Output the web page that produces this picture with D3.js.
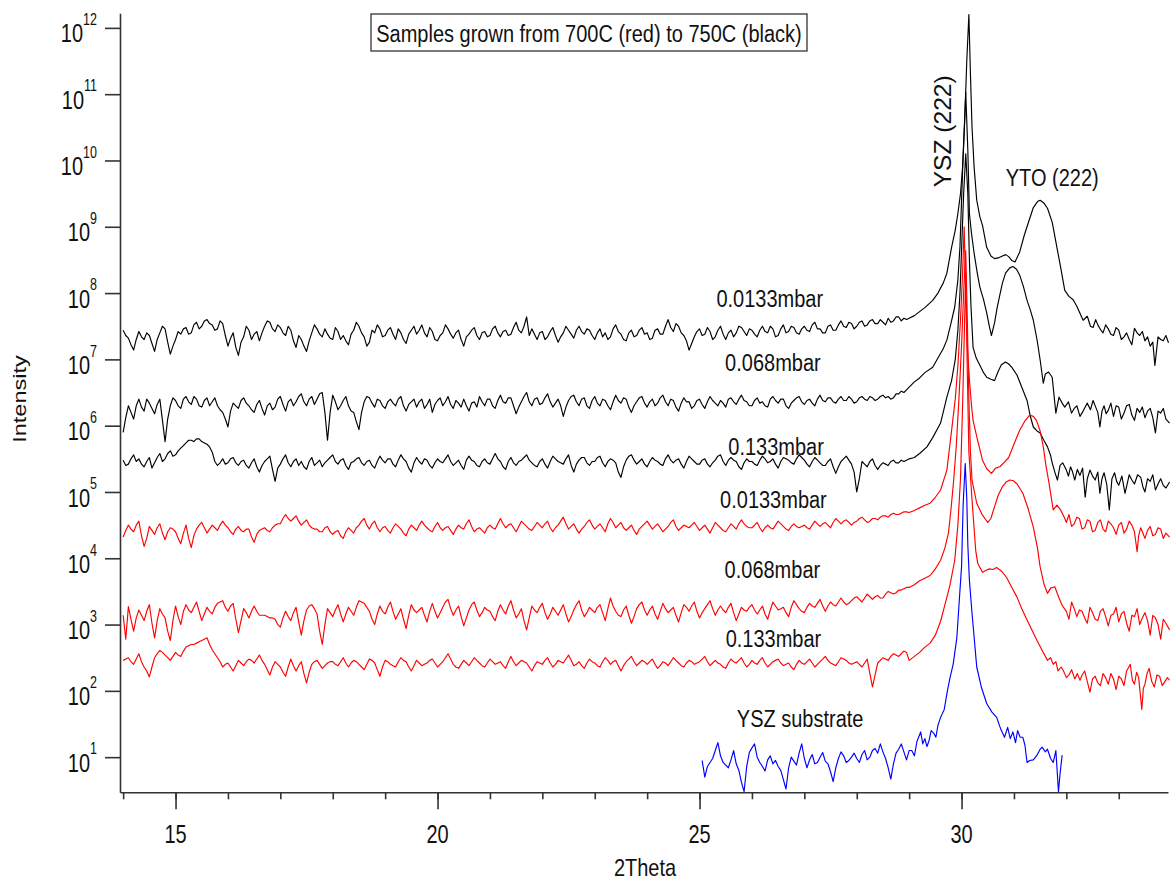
<!DOCTYPE html>
<html>
<head>
<meta charset="utf-8">
<script src="https://cdn.jsdelivr.net/npm/d3@7"></script>
<style>
  body { margin: 0; background: #fff; }
  text { font-family: "Liberation Sans", Arial, sans-serif; fill: #111; }
</style>
</head>
<body>
<div id="chart"></div>
<script>
// values are log10(intensity)
// flat part: one value every 0.1 deg from its start (xxFlat) plus the in-between readings (xxMid),
// then [2theta, log10] pairs through the peaks
const flatStart = 14.0, flatStep = 0.1;

// 750C, 0.0133 mbar (black)
const b0133Flat = [
  7.44, 7.32, 7.14, 7.42, 7.30, 7.36, 7.12, 7.40, 7.46, 7.08,
  7.30, 7.38, 7.48, 7.40, 7.56, 7.50, 7.60, 7.52, 7.46, 7.54,
  7.20, 7.40, 7.06, 7.34, 7.44, 7.38, 7.28, 7.50, 7.56, 7.42,
  7.48, 7.36, 7.44, 7.18, 7.30, 7.12, 7.40, 7.46, 7.34, 7.38,
  7.30, 7.42, 7.36, 7.22, 7.44, 7.50, 7.34, 7.26, 7.40, 7.46,
  7.36, 7.48, 7.30, 7.40, 7.24, 7.44, 7.38, 7.52, 7.34, 7.42,
  7.28, 7.40, 7.46, 7.32, 7.44, 7.20, 7.38, 7.48, 7.30, 7.42,
  7.36, 7.50, 7.34, 7.44, 7.38, 7.56, 7.40, 7.64, 7.46, 7.30,
  7.42, 7.34, 7.48, 7.26, 7.40, 7.44, 7.32, 7.50, 7.38, 7.44,
  7.30, 7.46, 7.40, 7.34, 7.52, 7.38, 7.28, 7.44, 7.36, 7.48,
  7.40, 7.32, 7.46, 7.38, 7.60, 7.42, 7.50, 7.36, 7.14, 7.34,
  7.46, 7.38, 7.42, 7.34, 7.50, 7.30, 7.44, 7.40, 7.48, 7.36,
  7.44, 7.34, 7.50, 7.40, 7.46, 7.36, 7.52, 7.42, 7.48, 7.38,
  7.50, 7.42, 7.56, 7.46, 7.40, 7.52, 7.44, 7.58, 7.48, 7.54,
  7.50, 7.58, 7.52, 7.60, 7.54, 7.56, 7.62, 7.58, 7.64, 7.62
];
const b0133Mid = [
  7.36, 7.22, 7.30, 7.34, 7.40, 7.24, 7.30, 7.50, 7.26, 7.20,
  7.42, 7.46, 7.38, 7.52, 7.46, 7.58, 7.54, 7.44, 7.58, 7.36,
  7.32, 7.18, 7.26, 7.50, 7.30, 7.42, 7.40, 7.58, 7.46, 7.52,
  7.40, 7.50, 7.28, 7.36, 7.20, 7.28, 7.52, 7.38, 7.46, 7.32,
  7.48, 7.30, 7.28, 7.38, 7.56, 7.40, 7.20, 7.44, 7.52, 7.34,
  7.44, 7.38, 7.46, 7.30, 7.38, 7.50, 7.44, 7.40, 7.48, 7.30,
  7.36, 7.52, 7.38, 7.40, 7.30, 7.34, 7.44, 7.36, 7.40, 7.34,
  7.46, 7.40, 7.42, 7.36, 7.48, 7.44, 7.50, 7.36, 7.38, 7.40,
  7.30, 7.42, 7.36, 7.34, 7.50, 7.38, 7.44, 7.42, 7.46, 7.36,
  7.40, 7.34, 7.30, 7.46, 7.42, 7.30, 7.40, 7.34, 7.44, 7.38,
  7.30, 7.44, 7.38, 7.50, 7.48, 7.54, 7.40, 7.28, 7.24, 7.42,
  7.36, 7.48, 7.30, 7.44, 7.38, 7.40, 7.34, 7.50, 7.42, 7.46,
  7.38, 7.44, 7.42, 7.50, 7.34, 7.46, 7.40, 7.50, 7.40, 7.46,
  7.44, 7.52, 7.46, 7.40, 7.50, 7.44, 7.52, 7.50, 7.56, 7.46,
  7.56, 7.50, 7.58, 7.54, 7.60, 7.52, 7.56, 7.64, 7.58, 7.60
];
const b0133Peak = [
  [29.0, 7.62], [29.1, 7.66], [29.2, 7.72], [29.3, 7.78], [29.45, 7.89], [29.55, 8.0],
  [29.65, 8.15], [29.72, 8.30], [29.81, 8.69], [29.88, 8.95], [29.93, 9.2], [29.98, 9.5],
  [30.02, 9.9], [30.06, 10.6], [30.1, 11.5], [30.14, 12.2], [30.17, 11.3], [30.2, 10.5],
  [30.24, 9.9], [30.29, 9.4], [30.35, 9.15], [30.4, 9.02], [30.48, 8.69], [30.56, 8.56],
  [30.63, 8.52], [30.7, 8.53], [30.78, 8.56], [30.84, 8.58], [30.9, 8.55], [30.96, 8.49],
  [31.02, 8.47], [31.11, 8.62], [31.2, 8.88], [31.27, 9.05], [31.37, 9.29], [31.45, 9.38],
  [31.5, 9.40], [31.57, 9.36], [31.64, 9.28], [31.73, 9.07], [31.82, 8.69], [31.9, 8.35],
  [31.97, 8.04], [32.05, 7.95], [32.13, 7.90], [32.2, 7.80], [32.32, 7.59], [32.4, 7.65],
  [32.46, 7.50], [32.51, 7.48], [32.56, 7.60], [32.6, 7.52], [32.66, 7.44], [32.7, 7.40],
  [32.75, 7.52], [32.8, 7.46], [32.85, 7.38], [32.9, 7.36], [32.95, 7.48], [33.0, 7.44],
  [33.05, 7.30], [33.1, 7.34], [33.15, 7.40], [33.2, 7.30], [33.25, 7.22], [33.3, 7.47],
  [33.35, 7.40], [33.4, 7.36], [33.45, 7.42], [33.5, 7.28], [33.55, 7.34], [33.6, 7.20],
  [33.65, 7.26], [33.69, 6.91], [33.75, 7.34], [33.8, 7.30], [33.85, 7.28], [33.9, 7.36],
  [33.95, 7.25]
];

// 750C, 0.068 mbar (black)
const b068Flat = [
  5.90, 6.30, 6.10, 6.40, 6.22, 6.34, 6.18, 6.40, 5.76, 6.30,
  6.38, 6.26, 6.44, 6.32, 6.40, 6.28, 6.42, 6.36, 6.30, 6.20,
  5.98, 6.34, 6.26, 6.42, 6.30, 6.20, 6.38, 6.16, 6.34, 6.28,
  6.44, 6.22, 6.40, 6.36, 6.48, 6.30, 6.44, 6.40, 6.50, 5.78,
  6.46, 6.24, 6.38, 6.30, 6.20, 5.94, 6.36, 6.42, 6.28, 6.38,
  6.26, 6.40, 6.30, 6.44, 6.22, 6.36, 6.28, 6.40, 6.32, 6.20,
  6.38, 6.30, 6.44, 6.26, 6.34, 6.40, 6.22, 6.36, 6.44, 6.30,
  6.40, 6.26, 6.46, 6.34, 6.42, 6.18, 6.36, 6.50, 6.30, 6.42,
  6.34, 6.48, 6.28, 6.40, 6.14, 6.38, 6.46, 6.30, 6.42, 6.26,
  6.44, 6.30, 6.38, 6.24, 6.46, 6.34, 6.40, 6.20, 6.36, 6.44,
  6.28, 6.40, 6.34, 6.46, 6.30, 6.38, 6.22, 6.42, 6.36, 6.30,
  6.40, 6.26, 6.44, 6.34, 6.38, 6.28, 6.42, 6.32, 6.46, 6.36,
  6.30, 6.42, 6.36, 6.28, 6.44, 6.34, 6.40, 6.26, 6.38, 6.44,
  6.32, 6.40, 6.30, 6.46, 6.36, 6.42, 6.34, 6.44, 6.38, 6.40,
  6.36, 6.44, 6.38, 6.42, 6.40, 6.46, 6.44, 6.42, 6.48, 6.50
];
const b068Mid = [
  6.12, 6.20, 6.30, 6.28, 6.40, 6.26, 6.32, 6.08, 6.10, 6.42,
  6.30, 6.40, 6.36, 6.44, 6.30, 6.38, 6.30, 6.42, 6.24, 6.10,
  6.22, 6.30, 6.38, 6.34, 6.24, 6.32, 6.26, 6.30, 6.24, 6.40,
  6.32, 6.36, 6.30, 6.44, 6.36, 6.40, 6.32, 6.48, 6.20, 6.20,
  6.36, 6.30, 6.44, 6.22, 6.06, 6.20, 6.44, 6.34, 6.40, 6.30,
  6.36, 6.34, 6.40, 6.30, 6.32, 6.40, 6.36, 6.26, 6.40, 6.32,
  6.42, 6.36, 6.32, 6.38, 6.28, 6.30, 6.34, 6.28, 6.36, 6.40,
  6.30, 6.38, 6.36, 6.42, 6.30, 6.28, 6.44, 6.36, 6.40, 6.32,
  6.42, 6.36, 6.34, 6.30, 6.28, 6.44, 6.36, 6.40, 6.30, 6.38,
  6.34, 6.40, 6.30, 6.36, 6.38, 6.42, 6.28, 6.30, 6.42, 6.34,
  6.36, 6.30, 6.42, 6.36, 6.40, 6.28, 6.34, 6.36, 6.26, 6.38,
  6.32, 6.36, 6.38, 6.30, 6.34, 6.40, 6.36, 6.40, 6.38, 6.30,
  6.38, 6.34, 6.30, 6.40, 6.38, 6.40, 6.30, 6.34, 6.42, 6.36,
  6.38, 6.34, 6.40, 6.38, 6.42, 6.36, 6.40, 6.38, 6.44, 6.34,
  6.42, 6.40, 6.44, 6.38, 6.44, 6.42, 6.40, 6.48, 6.52, 6.54
];
const b068Peak = [
  [29.0, 6.58], [29.1, 6.66], [29.2, 6.72], [29.3, 6.80], [29.45, 6.88], [29.55, 7.02],
  [29.65, 7.16], [29.72, 7.29], [29.8, 7.55], [29.87, 7.79], [29.93, 8.2], [29.97, 8.7],
  [30.02, 9.85], [30.08, 11.03], [30.12, 10.15], [30.15, 9.2], [30.19, 8.9], [30.24, 8.6],
  [30.3, 8.3], [30.35, 8.09], [30.42, 7.9], [30.48, 7.7], [30.53, 7.5], [30.57, 7.36],
  [30.63, 7.55], [30.68, 7.78], [30.73, 7.97], [30.78, 8.15], [30.84, 8.3], [30.92, 8.38],
  [30.98, 8.40], [31.05, 8.36], [31.11, 8.27], [31.18, 8.1], [31.25, 7.89], [31.31, 7.75],
  [31.37, 7.59], [31.44, 7.3], [31.5, 6.99], [31.56, 6.64], [31.6, 6.78], [31.66, 6.81],
  [31.73, 6.73], [31.8, 6.19], [31.86, 6.43], [31.92, 6.34], [31.97, 6.28], [32.04, 6.36],
  [32.1, 6.19], [32.15, 6.26], [32.2, 6.30], [32.26, 6.14], [32.32, 6.22], [32.4, 6.34],
  [32.46, 6.24], [32.51, 6.38], [32.56, 6.28], [32.6, 6.20], [32.64, 5.98], [32.68, 6.22],
  [32.72, 6.30], [32.76, 6.18], [32.8, 6.23], [32.85, 6.34], [32.9, 6.14], [32.95, 6.30],
  [33.0, 6.28], [33.05, 6.10], [33.1, 6.19], [33.15, 6.30], [33.2, 6.32], [33.25, 6.16],
  [33.3, 6.08], [33.35, 6.26], [33.4, 6.20], [33.45, 6.28], [33.5, 6.12], [33.55, 6.22],
  [33.6, 6.26], [33.65, 6.12], [33.7, 5.89], [33.75, 6.22], [33.8, 6.19], [33.85, 6.26],
  [33.9, 6.10], [33.97, 6.04]
];

// 750C, 0.133 mbar (black)
const b133Flat = [
  5.48, 5.42, 5.56, 5.50, 5.38, 5.52, 5.44, 5.58, 5.50, 5.62,
  5.56, 5.66, 5.74, 5.78, 5.80, 5.76, 5.72, 5.60, 5.40, 5.50,
  5.44, 5.52, 5.40, 5.48, 5.36, 5.50, 5.30, 5.46, 5.54, 5.16,
  5.42, 5.56, 5.38, 5.50, 5.46, 5.34, 5.52, 5.44, 5.38, 5.48,
  5.56, 5.42, 5.50, 5.34, 5.46, 5.52, 5.40, 5.48, 5.36, 5.54,
  5.44, 5.50, 5.38, 5.56, 5.46, 5.30, 5.52, 5.42, 5.48, 5.36,
  5.50, 5.44, 5.56, 5.40, 5.48, 5.34, 5.54, 5.46, 5.38, 5.50,
  5.42, 5.58, 5.46, 5.34, 5.52, 5.40, 5.48, 5.56, 5.44, 5.38,
  5.50, 5.36, 5.54, 5.46, 5.42, 5.56, 5.30, 5.48, 5.52, 5.40,
  5.46, 5.54, 5.38, 5.50, 5.44, 5.22, 5.48, 5.56, 5.42, 5.50,
  5.38, 5.52, 5.46, 5.40, 5.56, 5.44, 5.50, 5.36, 5.54, 5.46,
  5.42, 5.50, 5.38, 5.48, 5.56, 5.40, 5.52, 5.46, 5.34, 5.50,
  5.46, 5.40, 5.54, 5.44, 5.50, 5.36, 5.52, 5.48, 5.42, 5.56,
  5.48, 5.38, 5.52, 5.44, 5.40, 5.50, 5.28, 5.46, 5.54, 5.42,
  5.00, 5.46, 5.38, 5.50, 5.34, 5.44, 5.40, 5.48, 5.44, 5.46
];
const b133Mid = [
  5.40, 5.50, 5.46, 5.42, 5.46, 5.36, 5.52, 5.46, 5.58, 5.54,
  5.62, 5.70, 5.78, 5.76, 5.80, 5.74, 5.68, 5.46, 5.44, 5.42,
  5.50, 5.44, 5.46, 5.40, 5.44, 5.38, 5.40, 5.50, 5.34, 5.36,
  5.50, 5.44, 5.46, 5.40, 5.38, 5.46, 5.40, 5.48, 5.44, 5.52,
  5.46, 5.48, 5.40, 5.44, 5.50, 5.44, 5.46, 5.40, 5.46, 5.48,
  5.50, 5.42, 5.48, 5.50, 5.36, 5.44, 5.46, 5.50, 5.40, 5.44,
  5.46, 5.50, 5.46, 5.44, 5.40, 5.48, 5.48, 5.40, 5.46, 5.44,
  5.50, 5.50, 5.38, 5.46, 5.44, 5.46, 5.52, 5.48, 5.40, 5.46,
  5.42, 5.46, 5.50, 5.44, 5.50, 5.40, 5.42, 5.52, 5.44, 5.46,
  5.52, 5.44, 5.46, 5.48, 5.30, 5.38, 5.54, 5.48, 5.46, 5.42,
  5.46, 5.48, 5.42, 5.50, 5.48, 5.48, 5.42, 5.46, 5.50, 5.42,
  5.48, 5.42, 5.44, 5.54, 5.46, 5.48, 5.48, 5.38, 5.44, 5.46,
  5.42, 5.48, 5.50, 5.46, 5.42, 5.46, 5.50, 5.44, 5.50, 5.52,
  5.42, 5.46, 5.48, 5.40, 5.46, 5.38, 5.38, 5.50, 5.48, 5.30,
  5.20, 5.42, 5.46, 5.40, 5.40, 5.42, 5.46, 5.44, 5.48, 5.48
];
const b133Peak = [
  [29.0, 5.50], [29.1, 5.52], [29.2, 5.58], [29.34, 5.68], [29.45, 5.82], [29.6, 6.04],
  [29.72, 6.43], [29.81, 6.68], [29.88, 7.0], [29.93, 7.44], [29.97, 8.0], [30.0, 8.65],
  [30.04, 9.5], [30.08, 10.1], [30.12, 9.5], [30.15, 8.5], [30.18, 7.8], [30.22, 7.18],
  [30.28, 7.02], [30.35, 6.91], [30.42, 6.8], [30.48, 6.73], [30.56, 6.70], [30.63, 6.68],
  [30.7, 6.82], [30.76, 6.92], [30.84, 6.96], [30.9, 6.93], [30.96, 6.88], [31.06, 6.76],
  [31.15, 6.58], [31.25, 6.38], [31.31, 6.15], [31.37, 5.98], [31.44, 5.92], [31.5, 5.89],
  [31.57, 5.78], [31.64, 5.68], [31.7, 5.55], [31.73, 5.44], [31.78, 5.30], [31.83, 5.18],
  [31.88, 5.40], [31.93, 5.44], [32.0, 5.33], [32.04, 5.24], [32.08, 5.38], [32.12, 5.30],
  [32.16, 5.18], [32.21, 5.34], [32.26, 5.25], [32.31, 5.36], [32.36, 4.92], [32.4, 5.20],
  [32.45, 5.33], [32.5, 5.24], [32.55, 5.18], [32.6, 5.30], [32.64, 4.98], [32.68, 5.20],
  [32.72, 5.29], [32.77, 5.12], [32.82, 4.73], [32.87, 5.20], [32.92, 5.29], [32.96, 5.16],
  [33.0, 5.10], [33.06, 5.24], [33.12, 4.98], [33.16, 5.12], [33.2, 5.26], [33.25, 5.18],
  [33.3, 5.12], [33.36, 5.26], [33.42, 5.22], [33.46, 5.08], [33.5, 5.00], [33.55, 5.20],
  [33.6, 5.16], [33.65, 5.26], [33.7, 5.03], [33.75, 5.12], [33.8, 5.20], [33.85, 5.10],
  [33.9, 5.06], [33.97, 5.15]
];

// 700C, 0.0133 mbar (red)
const r0133Flat = [
  4.32, 4.50, 4.40, 4.56, 4.18, 4.48, 4.36, 4.52, 4.28, 4.46,
  4.40, 4.22, 4.50, 4.16, 4.44, 4.54, 4.38, 4.50, 4.42, 4.56,
  4.46, 4.36, 4.48, 4.40, 4.44, 4.24, 4.42, 4.46, 4.40, 4.50,
  4.52, 4.66, 4.56, 4.64, 4.50, 4.58, 4.46, 4.44, 4.40, 4.48,
  4.36, 4.42, 4.30, 4.46, 4.38, 4.50, 4.60, 4.44, 4.56, 4.40,
  4.48, 4.38, 4.52, 4.44, 4.34, 4.50, 4.42, 4.56, 4.46, 4.40,
  4.54, 4.42, 4.48, 4.36, 4.50, 4.44, 4.58, 4.40, 4.46, 4.38,
  4.50, 4.44, 4.60, 4.46, 4.52, 4.40, 4.56, 4.48, 4.42, 4.54,
  4.46, 4.56, 4.40, 4.50, 4.62, 4.44, 4.52, 4.38, 4.48, 4.58,
  4.44, 4.52, 4.40, 4.60, 4.46, 4.54, 4.42, 4.50, 4.36, 4.48,
  4.56, 4.44, 4.52, 4.40, 4.48, 4.58, 4.42, 4.50, 4.46, 4.54,
  4.42, 4.50, 4.38, 4.54, 4.46, 4.40, 4.52, 4.44, 4.58, 4.48,
  4.46, 4.54, 4.40, 4.50, 4.44, 4.56, 4.48, 4.42, 4.52, 4.46,
  4.50, 4.44, 4.56, 4.48, 4.54, 4.46, 4.60, 4.52, 4.58, 4.50,
  4.56, 4.62, 4.54, 4.60, 4.58, 4.64, 4.62, 4.68, 4.66, 4.70
];
const r0133Mid = [
  4.42, 4.44, 4.50, 4.34, 4.30, 4.42, 4.46, 4.38, 4.40, 4.44,
  4.30, 4.38, 4.30, 4.34, 4.50, 4.46, 4.44, 4.46, 4.50, 4.50,
  4.40, 4.44, 4.42, 4.44, 4.32, 4.36, 4.44, 4.42, 4.46, 4.52,
  4.60, 4.60, 4.60, 4.56, 4.54, 4.50, 4.44, 4.40, 4.46, 4.40,
  4.40, 4.34, 4.40, 4.42, 4.46, 4.56, 4.50, 4.52, 4.46, 4.46,
  4.42, 4.46, 4.48, 4.38, 4.44, 4.46, 4.50, 4.50, 4.42, 4.48,
  4.46, 4.46, 4.42, 4.44, 4.46, 4.52, 4.48, 4.44, 4.42, 4.46,
  4.46, 4.52, 4.52, 4.50, 4.46, 4.48, 4.52, 4.44, 4.48, 4.50,
  4.52, 4.46, 4.46, 4.56, 4.52, 4.48, 4.44, 4.44, 4.54, 4.50,
  4.48, 4.46, 4.52, 4.54, 4.50, 4.46, 4.46, 4.42, 4.44, 4.52,
  4.50, 4.48, 4.46, 4.44, 4.54, 4.48, 4.46, 4.48, 4.50, 4.48,
  4.46, 4.44, 4.46, 4.50, 4.42, 4.46, 4.48, 4.52, 4.52, 4.46,
  4.50, 4.46, 4.46, 4.46, 4.50, 4.52, 4.44, 4.48, 4.48, 4.48,
  4.46, 4.50, 4.52, 4.52, 4.50, 4.54, 4.56, 4.56, 4.54, 4.54,
  4.60, 4.58, 4.56, 4.60, 4.62, 4.64, 4.66, 4.66, 4.68, 4.70
];
const r0133Peak = [
  [29.0, 4.69], [29.1, 4.72], [29.2, 4.76], [29.3, 4.80], [29.4, 4.83], [29.5, 4.92],
  [29.6, 5.03], [29.72, 5.33], [29.81, 5.93], [29.88, 6.4], [29.93, 6.9], [29.98, 7.6],
  [30.02, 8.3], [30.05, 9.0], [30.08, 8.0], [30.11, 7.2], [30.15, 6.7], [30.19, 6.3],
  [30.22, 6.08], [30.3, 5.8], [30.4, 5.48], [30.48, 5.35], [30.57, 5.28], [30.65, 5.36],
  [30.73, 5.38], [30.82, 5.45], [30.9, 5.52], [30.96, 5.64], [31.04, 5.80], [31.11, 5.93],
  [31.2, 6.06], [31.3, 6.16], [31.37, 6.14], [31.43, 6.08], [31.5, 5.92], [31.56, 5.68],
  [31.61, 5.40], [31.66, 5.18], [31.75, 4.73], [31.82, 4.80], [31.89, 4.73], [31.96, 4.62],
  [32.0, 4.54], [32.05, 4.66], [32.1, 4.48], [32.15, 4.52], [32.2, 4.62], [32.25, 4.60],
  [32.3, 4.44], [32.35, 4.46], [32.4, 4.58], [32.45, 4.56], [32.5, 4.40], [32.55, 4.42],
  [32.6, 4.54], [32.65, 4.58], [32.7, 4.44], [32.75, 4.40], [32.8, 4.56], [32.85, 4.52],
  [32.9, 4.46], [32.95, 4.36], [33.0, 4.50], [33.05, 4.54], [33.1, 4.38], [33.15, 4.44],
  [33.2, 4.56], [33.25, 4.50], [33.3, 4.40], [33.35, 4.10], [33.38, 4.34], [33.42, 4.46],
  [33.46, 4.38], [33.5, 4.30], [33.55, 4.42], [33.6, 4.48], [33.65, 4.34], [33.7, 4.36],
  [33.75, 4.46], [33.8, 4.44], [33.85, 4.30], [33.9, 4.38], [33.97, 4.32]
];

// 700C, 0.068 mbar (red)
const r068Flat = [
  3.14, 3.27, 2.90, 3.22, 3.06, 3.30, 2.80, 3.24, 3.10, 2.76,
  3.28, 3.00, 3.30, 3.18, 3.34, 3.06, 3.26, 3.16, 3.32, 3.36,
  3.20, 3.32, 2.88, 3.24, 3.10, 3.28, 3.14, 3.14, 3.10, 3.08,
  2.96, 3.20, 3.06, 3.26, 2.84, 3.22, 3.30, 3.16, 2.70, 3.24,
  3.12, 3.30, 3.04, 3.26, 3.14, 3.36, 3.32, 3.20, 3.00, 3.28,
  3.16, 3.34, 3.08, 3.24, 2.94, 3.30, 3.18, 3.26, 3.04, 3.32,
  3.10, 3.26, 3.38, 3.14, 3.28, 2.98, 3.22, 3.34, 3.12, 3.26,
  3.20, 3.06, 3.30, 3.16, 3.36, 3.10, 3.24, 2.92, 3.28, 3.18,
  3.32, 3.08, 3.26, 3.14, 3.30, 3.04, 3.22, 3.36, 3.12, 3.26,
  3.18, 3.30, 3.06, 3.40, 3.20, 3.12, 3.28, 3.02, 3.24, 3.34,
  3.14, 3.28, 3.08, 3.32, 3.18, 3.26, 3.04, 3.30, 3.20, 3.34,
  3.10, 3.24, 3.36, 3.14, 3.28, 3.18, 3.32, 3.06, 3.26, 3.20,
  3.30, 3.16, 3.28, 3.08, 3.34, 3.22, 3.26, 3.12, 3.36, 3.24,
  3.18, 3.32, 3.26, 3.38, 3.20, 3.34, 3.28, 3.40, 3.30, 3.36,
  3.42, 3.34, 3.46, 3.38, 3.44, 3.40, 3.50, 3.46, 3.52, 3.54
];
const r068Mid = [
  2.78, 3.08, 3.10, 3.14, 3.20, 3.02, 3.06, 3.16, 2.90, 3.06,
  3.12, 3.20, 3.22, 3.26, 3.20, 3.16, 3.20, 3.26, 3.34, 3.26,
  3.28, 3.08, 3.06, 3.18, 3.20, 3.20, 3.14, 3.12, 3.10, 3.00,
  3.10, 3.12, 3.18, 3.04, 3.06, 3.28, 3.24, 2.90, 3.00, 3.18,
  3.22, 3.16, 3.16, 3.20, 3.26, 3.34, 3.26, 3.08, 3.16, 3.20,
  3.26, 3.20, 3.16, 3.08, 3.14, 3.22, 3.22, 3.14, 3.20, 3.20,
  3.18, 3.34, 3.24, 3.22, 3.12, 3.10, 3.30, 3.22, 3.18, 3.22,
  3.12, 3.20, 3.22, 3.28, 3.22, 3.16, 3.06, 3.10, 3.22, 3.26,
  3.18, 3.16, 3.20, 3.22, 3.16, 3.12, 3.30, 3.22, 3.18, 3.22,
  3.26, 3.18, 3.24, 3.28, 3.14, 3.22, 3.14, 3.12, 3.30, 3.22,
  3.22, 3.16, 3.20, 3.24, 3.22, 3.14, 3.18, 3.26, 3.28, 3.20,
  3.18, 3.30, 3.24, 3.22, 3.22, 3.26, 3.18, 3.16, 3.22, 3.26,
  3.22, 3.22, 3.16, 3.22, 3.28, 3.24, 3.18, 3.26, 3.30, 3.20,
  3.26, 3.28, 3.32, 3.28, 3.28, 3.30, 3.34, 3.34, 3.32, 3.40,
  3.38, 3.40, 3.42, 3.42, 3.40, 3.46, 3.48, 3.48, 3.52, 3.56
];
const r068Peak = [
  [29.0, 3.56], [29.1, 3.60], [29.2, 3.66], [29.3, 3.70], [29.4, 3.74], [29.5, 3.84],
  [29.6, 3.97], [29.68, 4.15], [29.75, 4.38], [29.8, 4.75], [29.85, 5.18], [29.9, 5.7],
  [29.95, 6.4], [30.0, 7.2], [30.04, 8.0], [30.08, 8.64], [30.11, 7.6], [30.14, 6.4],
  [30.17, 5.6], [30.2, 5.18], [30.29, 4.83], [30.4, 4.65], [30.5, 4.54], [30.56, 4.60],
  [30.63, 4.78], [30.7, 4.95], [30.78, 5.08], [30.85, 5.15], [30.92, 5.18], [30.99, 5.17],
  [31.06, 5.12], [31.17, 4.98], [31.27, 4.75], [31.37, 4.47], [31.45, 4.15], [31.5, 3.87],
  [31.57, 3.62], [31.64, 3.47], [31.7, 3.55], [31.78, 3.57], [31.86, 3.40], [31.92, 3.29],
  [32.0, 3.20], [32.05, 3.08], [32.1, 3.34], [32.15, 3.24], [32.2, 3.12], [32.25, 3.22],
  [32.3, 3.20], [32.35, 3.10], [32.4, 3.02], [32.45, 3.26], [32.5, 3.18], [32.55, 3.08],
  [32.6, 3.06], [32.65, 3.20], [32.7, 3.24], [32.75, 3.12], [32.8, 2.98], [32.85, 3.14],
  [32.9, 3.16], [32.95, 3.26], [33.0, 3.04], [33.05, 3.16], [33.1, 3.20], [33.15, 3.02],
  [33.2, 2.90], [33.25, 3.14], [33.3, 3.12], [33.35, 3.24], [33.4, 3.00], [33.45, 3.10],
  [33.5, 3.18], [33.55, 3.06], [33.6, 2.84], [33.65, 3.14], [33.7, 3.10], [33.75, 3.00],
  [33.8, 2.78], [33.85, 3.08], [33.9, 3.02], [33.97, 2.92]
];

// 700C, 0.133 mbar (red)
const r133Flat = [
  2.46, 2.50, 2.40, 2.56, 2.36, 2.21, 2.50, 2.61, 2.54, 2.46,
  2.58, 2.52, 2.66, 2.70, 2.72, 2.76, 2.80, 2.62, 2.50, 2.36,
  2.42, 2.30, 2.46, 2.38, 2.48, 2.42, 2.54, 2.40, 2.24, 2.44,
  2.36, 2.22, 2.48, 2.30, 2.44, 2.12, 2.40, 2.46, 2.34, 2.42,
  2.44, 2.38, 2.50, 2.36, 2.46, 2.40, 2.32, 2.48, 2.42, 2.22,
  2.46, 2.40, 2.36, 2.50, 2.44, 2.30, 2.46, 2.38, 2.42, 2.48,
  2.36, 2.44, 2.56, 2.40, 2.34, 2.46, 2.38, 2.50, 2.42, 2.36,
  2.48, 2.40, 2.44, 2.34, 2.52, 2.38, 2.46, 2.42, 2.30, 2.44,
  2.40, 2.50, 2.36, 2.46, 2.42, 2.54, 2.38, 2.44, 2.34, 2.48,
  2.42, 2.36, 2.50, 2.40, 2.46, 2.30, 2.44, 2.52, 2.38, 2.46,
  2.40, 2.48, 2.34, 2.44, 2.38, 2.50, 2.42, 2.36, 2.46, 2.40,
  2.44, 2.52, 2.38, 2.46, 2.40, 2.34, 2.48, 2.42, 2.50, 2.36,
  2.46, 2.40, 2.50, 2.36, 2.44, 2.48, 2.38, 2.42, 2.32, 2.46,
  2.40, 2.48, 2.36, 2.44, 2.52, 2.42, 2.38, 2.50, 2.46, 2.40,
  2.44, 2.36, 2.48, 2.06, 2.42, 2.50, 2.46, 2.56, 2.52, 2.60
];
const r133Mid = [
  2.48, 2.44, 2.48, 2.44, 2.30, 2.36, 2.56, 2.58, 2.50, 2.52,
  2.54, 2.60, 2.68, 2.70, 2.74, 2.78, 2.70, 2.56, 2.44, 2.40,
  2.36, 2.38, 2.42, 2.44, 2.46, 2.48, 2.46, 2.32, 2.36, 2.40,
  2.28, 2.36, 2.38, 2.38, 2.26, 2.28, 2.44, 2.40, 2.38, 2.44,
  2.40, 2.44, 2.42, 2.42, 2.44, 2.36, 2.40, 2.46, 2.32, 2.36,
  2.44, 2.38, 2.44, 2.46, 2.36, 2.38, 2.42, 2.40, 2.46, 2.42,
  2.40, 2.50, 2.48, 2.36, 2.40, 2.42, 2.44, 2.46, 2.38, 2.42,
  2.44, 2.42, 2.38, 2.44, 2.44, 2.42, 2.44, 2.36, 2.38, 2.42,
  2.46, 2.42, 2.40, 2.44, 2.48, 2.46, 2.40, 2.38, 2.42, 2.44,
  2.38, 2.44, 2.46, 2.44, 2.38, 2.38, 2.48, 2.44, 2.42, 2.44,
  2.44, 2.40, 2.38, 2.42, 2.44, 2.46, 2.38, 2.42, 2.44, 2.42,
  2.48, 2.44, 2.42, 2.42, 2.36, 2.42, 2.44, 2.46, 2.42, 2.40,
  2.42, 2.46, 2.42, 2.40, 2.46, 2.42, 2.40, 2.36, 2.40, 2.42,
  2.44, 2.42, 2.40, 2.48, 2.46, 2.40, 2.44, 2.48, 2.42, 2.42,
  2.40, 2.42, 2.26, 2.24, 2.46, 2.48, 2.52, 2.54, 2.56, 2.58
];
const r133Peak = [
  [29.0, 2.46], [29.1, 2.52], [29.2, 2.58], [29.3, 2.66], [29.4, 2.72], [29.5, 2.84],
  [29.6, 3.05], [29.7, 3.35], [29.78, 3.60], [29.87, 3.97], [29.93, 4.5], [29.98, 5.2],
  [30.02, 6.3], [30.05, 7.3], [30.08, 8.3], [30.11, 6.8], [30.14, 5.6], [30.2, 4.88],
  [30.27, 4.12], [30.31, 3.92], [30.4, 3.79], [30.47, 3.82], [30.53, 3.84], [30.6, 3.83],
  [30.67, 3.86], [30.77, 3.80], [30.86, 3.71], [30.96, 3.56], [31.06, 3.41], [31.15, 3.24],
  [31.25, 3.07], [31.34, 2.92], [31.44, 2.76], [31.56, 2.58], [31.64, 2.46], [31.7, 2.50],
  [31.75, 2.40], [31.8, 2.44], [31.84, 2.30], [31.9, 2.36], [31.94, 2.31], [32.0, 2.20],
  [32.05, 2.24], [32.1, 2.32], [32.16, 2.18], [32.21, 2.26], [32.26, 2.16], [32.3, 2.24],
  [32.35, 2.30], [32.4, 2.14], [32.45, 1.98], [32.5, 2.18], [32.55, 2.22], [32.6, 2.12],
  [32.65, 2.08], [32.7, 2.26], [32.75, 2.20], [32.8, 2.10], [32.85, 2.26], [32.9, 2.18],
  [32.95, 2.02], [33.0, 2.22], [33.05, 2.18], [33.1, 2.08], [33.15, 2.30], [33.22, 2.40],
  [33.26, 2.16], [33.3, 2.10], [33.34, 2.28], [33.38, 2.20], [33.44, 1.72], [33.47, 2.04],
  [33.5, 2.10], [33.54, 2.26], [33.58, 2.34], [33.63, 2.14], [33.68, 2.06], [33.73, 2.24],
  [33.78, 2.22], [33.83, 2.08], [33.88, 2.14], [33.93, 2.20], [33.97, 2.16]
];

// YSZ substrate (blue), flat part starts at 25.05
const subStart = 25.05;
const subFlat = [
  0.95, 0.86, 0.98, 1.22, 0.92, 0.84, 1.10, 0.80, 0.48, 1.07,
  1.20, 0.92, 0.79, 1.02, 0.95, 0.80, 0.52, 1.00, 0.88, 1.20,
  0.84, 1.04, 0.92, 1.07, 0.90, 0.63, 0.98, 1.02, 0.95, 1.06,
  0.92, 1.10, 1.00, 1.13, 1.20, 0.98, 0.67, 1.06, 1.20, 0.96
];
const subMid = [
  0.70, 0.92, 1.10, 1.02, 0.88, 0.96, 0.90, 0.62, 0.86, 1.14,
  1.00, 0.86, 0.96, 0.90, 0.86, 0.66, 0.84, 0.94, 1.06, 0.98,
  0.96, 0.90, 1.00, 0.94, 0.78, 0.84, 1.08, 0.92, 1.00, 0.98,
  1.04, 0.96, 1.10, 1.06, 1.08, 0.84, 0.90, 1.12, 1.08, 1.10
];
const subPeak = [
  [29.05, 1.10], [29.1, 1.02], [29.15, 1.24], [29.22, 1.38], [29.26, 1.20], [29.3, 1.28],
  [29.34, 1.16], [29.38, 1.25], [29.42, 1.40], [29.47, 1.36], [29.51, 1.30], [29.55, 1.48],
  [29.6, 1.60], [29.67, 1.72], [29.73, 2.0], [29.78, 2.2], [29.84, 2.4], [29.91, 2.8],
  [29.96, 3.4], [30.0, 3.87], [30.03, 4.8], [30.07, 5.43], [30.1, 4.9], [30.12, 4.2],
  [30.15, 3.67], [30.2, 3.17], [30.29, 2.36], [30.38, 2.05], [30.48, 1.81], [30.58, 1.68],
  [30.67, 1.60], [30.75, 1.42], [30.82, 1.30], [30.88, 1.45], [30.93, 1.28], [30.98, 1.38],
  [31.03, 1.22], [31.07, 1.40], [31.12, 1.30], [31.17, 1.30], [31.21, 1.18], [31.25, 0.92],
  [31.3, 0.95], [31.37, 0.96], [31.44, 1.03], [31.5, 1.12], [31.54, 1.15], [31.6, 1.08],
  [31.64, 1.12], [31.7, 0.98], [31.75, 0.92], [31.8, 1.10], [31.85, 0.48], [31.88, 0.75],
  [31.92, 1.03]
];

// curve labels, placed in data units (2theta, log10 of text baseline)
const curveLabels = ['0.0133mbar', '0.068mbar', '0.133mbar', '0.0133mbar', '0.068mbar', '0.133mbar', 'YSZ substrate'];
const labelTheta = [26.34, 26.40, 26.46, 26.41, 26.39, 26.41, 26.92];
const labelLog = [7.79, 6.82, 5.56, 4.76, 3.70, 2.66, 1.455];

const xMajor = [15, 20, 25, 30];
const xMinor = d3.range(14, 34);
const yDecades = d3.range(1, 13);

const series = [
  { flat: b0133Flat, mid: b0133Mid, peak: b0133Peak, start: flatStart, color: '#000' },
  { flat: b068Flat, mid: b068Mid, peak: b068Peak, start: flatStart, color: '#000' },
  { flat: b133Flat, mid: b133Mid, peak: b133Peak, start: flatStart, color: '#000' },
  { flat: r0133Flat, mid: r0133Mid, peak: r0133Peak, start: flatStart, color: '#ff0000' },
  { flat: r068Flat, mid: r068Mid, peak: r068Peak, start: flatStart, color: '#ff0000' },
  { flat: r133Flat, mid: r133Mid, peak: r133Peak, start: flatStart, color: '#ff0000' },
  { flat: subFlat, mid: subMid, peak: subPeak, start: subStart, color: '#0000ff' }
];

function toPoints(s) {
  let pts = [];
  s.flat.forEach((v, i) => {
    let t = s.start + i * flatStep;
    pts.push([+t.toFixed(3), Math.pow(10, v)]);
    pts.push([+(t + flatStep / 2).toFixed(3), Math.pow(10, s.mid[i])]);
  });
  return pts.concat(s.peak.map(d => [d[0], Math.pow(10, d[1])]));
}

// canvas
const width = 1175, height = 888;
const svg = d3.select('#chart').append('svg')
  .attr('width', width)
  .attr('height', height);

const x = d3.scaleLinear().domain([13.94, 33.94]).range([120, 1168]);
const y = d3.scaleLog().domain([Math.pow(10, 0.47), Math.pow(10, 12.22)]).range([792.3, 13.3]);

// text helper, the source picture is stretched vertically
function label(parent, s, px, py, size, sy, anchor, rotate) {
  let t = `translate(${px},${py}) scale(1,${sy})` + (rotate ? ` rotate(${rotate})` : '');
  return parent.append('text')
    .attr('transform', t)
    .attr('text-anchor', anchor || 'middle')
    .attr('font-size', size)
    .text(s);
}

// traces
const line = d3.line().x(d => x(d[0])).y(d => y(d[1]));
svg.append('g')
  .attr('id', 'traces')
  .selectAll('path')
  .data(series)
  .join('path')
  .attr('d', d => line(toPoints(d)))
  .attr('fill', 'none')
  .attr('stroke', d => d.color)
  .attr('stroke-width', 1.15)
  .attr('stroke-linejoin', 'round');

// x axis
const xAxisG = svg.append('g').attr('transform', `translate(0,${y.range()[0]})`);
xAxisG.call(d3.axisBottom(x).tickValues(xMinor).tickSize(7).tickSizeOuter(0).tickFormat(''));
xAxisG.append('g').call(d3.axisBottom(x).tickValues(xMajor).tickSize(17).tickSizeOuter(0).tickFormat(''))
  .select('.domain').remove();
xAxisG.selectAll('path, line').attr('stroke', '#333').attr('stroke-width', 1.6);

xMajor.forEach(v => label(svg, String(v), x(v), 843, 20, 1.3));

// y axis
const yAxisG = svg.append('g').attr('transform', `translate(${x.range()[0]},0)`);
yAxisG.call(d3.axisLeft(y).tickValues(yDecades.map(e => Math.pow(10, e))).tickSize(15).tickSizeOuter(0).tickFormat(''));
yAxisG.selectAll('path, line').attr('stroke', '#333').attr('stroke-width', 1.6);

yDecades.forEach(e => {
  let t = label(svg, '10', 97, y(Math.pow(10, e)) + 14.6, 20, 1.3, 'end');
  t.append('tspan').attr('dy', -13.3).attr('font-size', 12.5).text(String(e));
});

// axis titles
label(svg, '2Theta', 645, 876, 20, 1.22);
label(svg, 'Intensity', 26, 399, 19, 1.24, 'middle', -90);

// header box
svg.append('rect')
  .attr('x', 371).attr('y', 14).attr('width', 436).attr('height', 37)
  .attr('fill', '#fff').attr('stroke', '#333').attr('stroke-width', 1.3);
label(svg, 'Samples grown from 700C (red) to 750C (black)', 589, 41.7, 20, 1.24);

// peak labels
label(svg, 'YSZ (222)', x(29.8), y(Math.pow(10, 10.44)), 23, 1.07, 'middle', -90);
label(svg, 'YTO (222)', x(31.73), y(Math.pow(10, 9.615)), 20, 1.22);

// curve labels
curveLabels.forEach((s, i) => {
  label(svg, s, x(labelTheta[i]), y(Math.pow(10, labelLog[i])), 20, 1.24);
});
</script>
</body>
</html>
